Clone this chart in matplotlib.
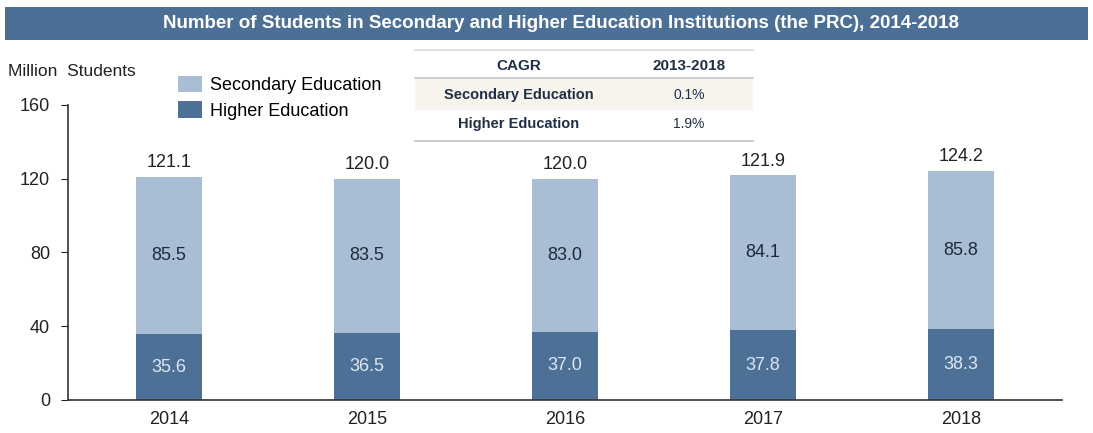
import matplotlib
matplotlib.use("Agg")
import matplotlib.pyplot as plt
from matplotlib.patches import Rectangle, Patch
import numpy as np

years = ["2014", "2015", "2016", "2017", "2018"]
higher = [35.6, 36.5, 37.0, 37.8, 38.3]
secondary = [85.5, 83.5, 83.0, 84.1, 85.8]
totals = [121.1, 120.0, 120.0, 121.9, 124.2]
yticks = [0, 40, 80, 120, 160]
title = "Number of Students in Secondary and Higher Education Institutions (the PRC), 2014-2018"
cagr_header = ["CAGR", "2013-2018"]
cagr_rows = [["Secondary Education", "0.1%"], ["Higher Education", "1.9%"]]

plt.rcParams['font.family'] = ['Liberation Sans', 'DejaVu Sans']

c_sec = "#a9bed5"
c_high = "#4d7097"
c_title = "#4c6f96"
c_text = "#222222"

fig = plt.figure(figsize=(10.93, 4.33), dpi=100)
W, H = 1093, 433

def fx(px):
    return px / W

def fy(py):
    return 1 - py / H

# title bar
fig.patches.append(Rectangle((fx(5), fy(40)), fx(1083), 33 / H, transform=fig.transFigure,
                             facecolor=c_title, edgecolor="none", zorder=0))
fig.text(0.513, fy(23.5), title, ha="center", va="center", color="white",
         fontsize=13.5, fontweight="bold")

ax = fig.add_axes([fx(68), fy(400), fx(1062 - 68), (400 - 105) / H])
x = np.arange(len(years))
bw = 0.33
ax.bar(x, higher, bw, color=c_high, zorder=2)
ax.bar(x, secondary, bw, bottom=higher, color=c_sec, zorder=2)

for i in range(len(years)):
    ax.text(x[i], higher[i] / 2, f"{higher[i]:.1f}", ha="center", va="center",
            color="#dce7f3", fontsize=13)
    ax.text(x[i], higher[i] + secondary[i] / 2, f"{secondary[i]:.1f}", ha="center",
            va="center", color="#1e2a38", fontsize=13)
    ax.text(x[i], totals[i] + 3, f"{totals[i]:.1f}", ha="center", va="bottom",
            color=c_text, fontsize=13)

ax.set_xlim(-0.51, 4.51)
ax.set_ylim(0, 160)
ax.set_yticks(yticks)
ax.set_xticks(x)
ax.set_xticklabels(years)
ax.tick_params(axis="both", labelsize=13, colors=c_text)
ax.tick_params(axis="x", length=0, pad=8)
ax.tick_params(axis="y", length=5, direction="out", pad=8)
for s in ["top", "right"]:
    ax.spines[s].set_visible(False)
for s in ["left", "bottom"]:
    ax.spines[s].set_color("#333333")
    ax.spines[s].set_linewidth(1.2)

fig.text(fx(8), fy(72), "Million  Students", ha="left", va="center", fontsize=12.5, color=c_text)

# legend
handles = [Patch(facecolor=c_sec, edgecolor="none", label="Secondary Education"),
           Patch(facecolor=c_high, edgecolor="none", label="Higher Education")]
fig.legend(handles=handles, loc="upper left", bbox_to_anchor=(fx(178), fy(76)),
           frameon=False, fontsize=13, handlelength=1.35, handleheight=1.0,
           handletextpad=0.45, labelspacing=0.4, borderaxespad=0, borderpad=0)

# CAGR table
tx0, tx1 = 415, 753
fig.patches.append(Rectangle((fx(tx0), fy(110)), fx(tx1 - tx0), 31 / H, transform=fig.transFigure,
                             facecolor="#f6f4ec", edgecolor="none", zorder=0))
for ly, lc in [(50, "#d9d9d9"), (78, "#c8c8c8"), (141, "#bfbfbf")]:
    fig.add_artist(plt.Line2D([fx(tx0), fx(tx1)], [fy(ly), fy(ly)], color=lc, lw=1.2,
                              transform=fig.transFigure))
col_x = [519, 689]
row_y = [66, 95, 124]
tcol = "#1f2f45"
for j, h in enumerate(cagr_header):
    fig.text(fx(col_x[j]), fy(row_y[0]), h, ha="center", va="center", fontsize=11,
             fontweight="bold", color=tcol)
for i, row in enumerate(cagr_rows):
    fig.text(fx(col_x[0]), fy(row_y[i + 1]), row[0], ha="center", va="center", fontsize=10.5,
             fontweight="bold", color=tcol)
    fig.text(fx(col_x[1]), fy(row_y[i + 1]), row[1], ha="center", va="center", fontsize=10,
             color=tcol)

fig.savefig("out.png", dpi=100)
